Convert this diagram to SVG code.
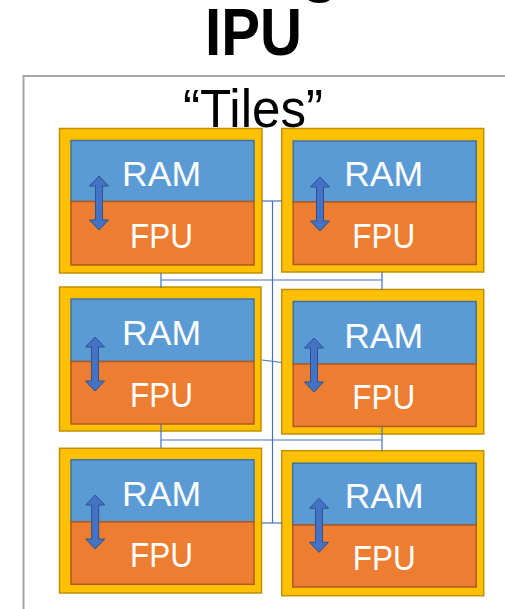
<svg xmlns="http://www.w3.org/2000/svg" xmlns:xlink="http://www.w3.org/1999/xlink" width="505" height="609" viewBox="0 0 505 609">
  <style>
    .frame { fill: none; stroke: #a6a6a6; stroke-width: 2; }
    .title { font-family: "Liberation Sans", Arial, sans-serif; font-weight: bold; fill: #000; }
    .caption { font-family: "Liberation Sans", Arial, sans-serif; fill: #000; }
    .shell { fill: #ffc000; stroke: #bf9000; stroke-width: 1.5; }
    .ram { fill: #5b9bd5; stroke: #41719c; stroke-width: 1.5; }
    .fpu { fill: #ed7d31; stroke: #ae5a21; stroke-width: 1.5; }
    .label { font-family: "Liberation Sans", Arial, sans-serif; font-size: 35px; fill: #fff; text-anchor: middle; }
    .bus { fill: none; stroke: #4472c4; stroke-width: 1.2; }
    .link { fill: #4472c4; stroke: #2f528f; stroke-width: 1; }
  </style>
  <defs>
    <!-- double-headed block arrow, tips at y=0 and y=54 -->
    <path id="dbl-arrow" class="link" d="M0,0 L9.5,10 L3.5,10 L3.5,44 L9.5,44 L0,54 L-9.5,44 L-3.5,44 L-3.5,10 L-9.5,10 Z"/>
  </defs>

  <!-- chip outline -->
  <rect class="frame" x="23.5" y="76" width="520" height="560"/>

  <!-- heading (descender of the line above peeks in at the top edge) -->
  <text class="title" x="301" y="-10.5" font-size="62">g</text>
  <text class="title" x="253.5" y="55" font-size="67" text-anchor="middle" textLength="97" lengthAdjust="spacingAndGlyphs">IPU</text>
  <text class="caption" x="253" y="127" font-size="54" text-anchor="middle" textLength="140" lengthAdjust="spacingAndGlyphs">“Tiles”</text>

  <!-- tiles -->
  <g id="tile-1" transform="translate(59.5,128.5)">
    <rect class="shell" x="0" y="0" width="202.5" height="144.5"/>
    <rect class="ram" x="11.5" y="12" width="183" height="61"/>
    <rect class="fpu" x="11.5" y="73" width="183" height="63.5"/>
    <text class="label" x="102" y="57" textLength="79" lengthAdjust="spacingAndGlyphs">RAM</text>
    <text class="label" x="102" y="119" textLength="63" lengthAdjust="spacingAndGlyphs">FPU</text>
    <use xlink:href="#dbl-arrow" x="39.5" y="47.5"/>
  </g>
  <g id="tile-2" transform="translate(281.7,128.5)">
    <rect class="shell" x="0" y="0" width="202" height="143.5"/>
    <rect class="ram" x="11.5" y="12.5" width="183" height="61"/>
    <rect class="fpu" x="11.5" y="73.5" width="183" height="62.5"/>
    <text class="label" x="102" y="57.5" textLength="79" lengthAdjust="spacingAndGlyphs">RAM</text>
    <text class="label" x="102" y="119" textLength="63" lengthAdjust="spacingAndGlyphs">FPU</text>
    <use xlink:href="#dbl-arrow" x="38.3" y="48.5"/>
  </g>
  <g id="tile-3" transform="translate(59.5,287)">
    <rect class="shell" x="0" y="0" width="201.5" height="144"/>
    <rect class="ram" x="11.5" y="12" width="183" height="62.5"/>
    <rect class="fpu" x="11.5" y="74.5" width="183" height="62.5"/>
    <text class="label" x="102" y="58" textLength="79" lengthAdjust="spacingAndGlyphs">RAM</text>
    <text class="label" x="102" y="119.5" textLength="63" lengthAdjust="spacingAndGlyphs">FPU</text>
    <use xlink:href="#dbl-arrow" x="35.5" y="50"/>
  </g>
  <g id="tile-4" transform="translate(281.7,289.5)">
    <rect class="shell" x="0" y="0" width="202" height="144.5"/>
    <rect class="ram" x="11.5" y="12" width="183" height="62.5"/>
    <rect class="fpu" x="11.5" y="74.5" width="183" height="62.5"/>
    <text class="label" x="102" y="58" textLength="79" lengthAdjust="spacingAndGlyphs">RAM</text>
    <text class="label" x="102" y="119.5" textLength="63" lengthAdjust="spacingAndGlyphs">FPU</text>
    <use xlink:href="#dbl-arrow" x="32.3" y="48.5"/>
  </g>
  <g id="tile-5" transform="translate(59.5,448.3)">
    <rect class="shell" x="0" y="0" width="202" height="144.7"/>
    <rect class="ram" x="11.5" y="11.5" width="183" height="62"/>
    <rect class="fpu" x="11.5" y="73.5" width="183" height="62.5"/>
    <text class="label" x="102" y="57.7" textLength="79" lengthAdjust="spacingAndGlyphs">RAM</text>
    <text class="label" x="102" y="118.4" textLength="63" lengthAdjust="spacingAndGlyphs">FPU</text>
    <use xlink:href="#dbl-arrow" x="35.7" y="46.7"/>
  </g>
  <g id="tile-6" transform="translate(281.7,450.7)">
    <rect class="shell" x="0" y="0" width="202" height="145"/>
    <rect class="ram" x="11" y="12.5" width="183.5" height="61.8"/>
    <rect class="fpu" x="11" y="74.3" width="183.5" height="62"/>
    <text class="label" x="102.5" y="57.6" textLength="79" lengthAdjust="spacingAndGlyphs">RAM</text>
    <text class="label" x="102.5" y="119.3" textLength="63" lengthAdjust="spacingAndGlyphs">FPU</text>
    <use xlink:href="#dbl-arrow" x="37.3" y="47.6"/>
  </g>

  <!-- interconnect -->
  <g id="connectors" class="bus">
    <path d="M272.5,201 V523"/>
    <path d="M262,201 H282"/>
    <path d="M262,360 L282,362.5"/>
    <path d="M262,523 H282"/>
    <path d="M161,273 V288 M382,272 V290 M161,280 H382"/>
    <path d="M161,424 V448 M382,427 V451 M161,440 H382"/>
  </g>
</svg>
